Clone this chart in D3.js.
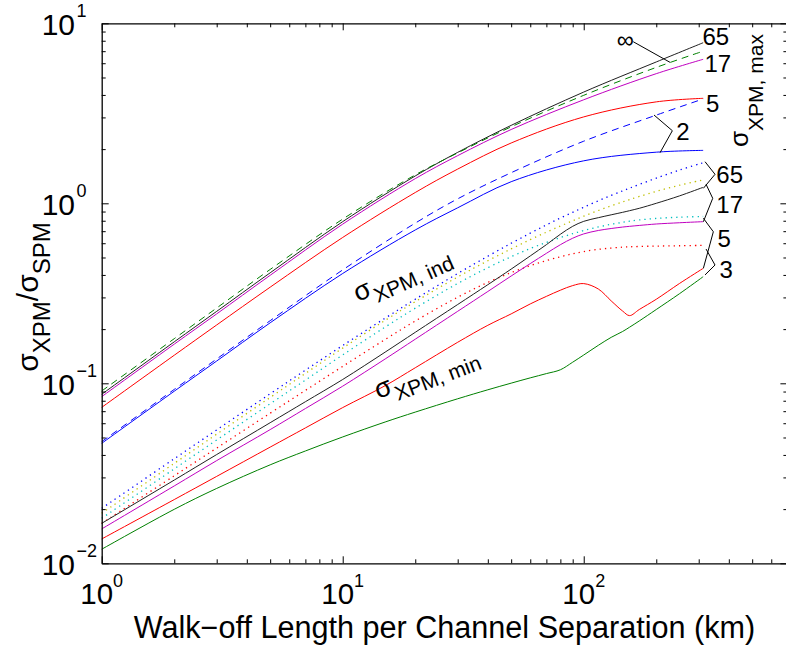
<!DOCTYPE html>
<html><head><meta charset="utf-8">
<script src="https://cdn.jsdelivr.net/npm/d3@7"></script>
<style>
body{margin:0;background:#fff}
svg{display:block}
text{font-family:"Liberation Sans",Arial,Helvetica,sans-serif;fill:#000}
</style>
</head><body>
<svg id="c" width="786" height="646"></svg>
<script>
// ---------------- data ----------------
const xTop = [1, 2, 3, 5, 10, 20, 30, 50, 100, 200, 313];
const maxInf = [0.0906, 0.177, 0.262, 0.429, 0.817, 1.439, 1.905, 2.66, 3.98, 5.69, 7.0];
const max65  = [0.0869, 0.170, 0.251, 0.411, 0.791, 1.419, 1.919, 2.71, 4.15, 6.1, 7.8];
const max17  = [0.0843, 0.165, 0.243, 0.398, 0.766, 1.371, 1.84, 2.57, 3.76, 5.25, 6.31];
const max5   = [0.0735, 0.1432, 0.2109, 0.342, 0.646, 1.148, 1.549, 2.163, 3.02, 3.66, 3.83];
const max2d  = [0.0474, 0.0925, 0.1365, 0.2228, 0.4266, 0.776, 1.059, 1.479, 2.213, 3.09, 3.8];
const max2   = [0.0464, 0.0904, 0.133, 0.2168, 0.4074, 0.711, 0.944, 1.318, 1.722, 1.923, 1.968];

const xLow = [1, 2, 3, 5, 7, 10, 15, 20, 30, 40, 50, 60, 70, 80, 90, 100, 115, 130, 145, 155, 170, 200, 250, 313];
const ind65 = [0.0202, 0.0381, 0.0551, 0.0875, 0.1183, 0.1622, 0.2301, 0.2931, 0.4074, 0.5082, 0.5998, 0.6823, 0.7586, 0.8283, 0.8913, 0.9506, 1.0327, 1.106, 1.172, 1.214, 1.273, 1.379, 1.531, 1.68];
const ind17 = [0.01897, 0.0359, 0.0522, 0.0834, 0.1134, 0.1569, 0.2237, 0.284, 0.3898, 0.4794, 0.5579, 0.6281, 0.6911, 0.7475, 0.7996, 0.8477, 0.9119, 0.9681, 1.018, 1.049, 1.091, 1.165, 1.26, 1.349];
const ind5  = [0.01778, 0.03347, 0.04842, 0.07694, 0.1042, 0.1438, 0.2053, 0.2615, 0.3587, 0.4387, 0.5051, 0.5603, 0.6061, 0.645, 0.6776, 0.7054, 0.7387, 0.7643, 0.7845, 0.7956, 0.8082, 0.8242, 0.8373, 0.8449];
const ind3  = [0.01667, 0.03063, 0.04368, 0.06823, 0.09129, 0.1242, 0.1752, 0.2219, 0.3008, 0.3636, 0.4121, 0.4504, 0.4806, 0.5049, 0.5243, 0.5395, 0.5548, 0.5643, 0.5705, 0.5731, 0.5757, 0.5785, 0.581, 0.5837];
const min65 = [0.01667, 0.0290, 0.0402, 0.0604, 0.079, 0.105, 0.149, 0.192, 0.274, 0.353, 0.431, 0.51, 0.589, 0.673, 0.745, 0.794, 0.832, 0.863, 0.891, 0.91, 0.938, 1.0, 1.10, 1.227];
const min17 = [0.01552, 0.0269, 0.0372, 0.0553, 0.0724, 0.0964, 0.1365, 0.1758, 0.2512, 0.3236, 0.3945, 0.4624, 0.5272, 0.5888, 0.6397, 0.6761, 0.7063, 0.7244, 0.7379, 0.7447, 0.7534, 0.7674, 0.7798, 0.7907];
const min5  = [0.01365, 0.0226, 0.0304, 0.0442, 0.0565, 0.0733, 0.097, 0.122, 0.169, 0.21, 0.243, 0.276, 0.304, 0.329, 0.349, 0.358, 0.334, 0.287, 0.252, 0.2377, 0.257, 0.293, 0.359, 0.435];
const min3  = [0.01197, 0.01995, 0.02606, 0.03524, 0.04207, 0.05035, 0.06095, 0.06918, 0.08204, 0.09204, 0.1002, 0.1072, 0.1132, 0.1189, 0.131, 0.1436, 0.1626, 0.18, 0.194, 0.205, 0.222, 0.257, 0.315, 0.391];

const xMajor = [1, 10, 100];
const xMinor = [2,3,4,5,6,7,8,9,20,30,40,50,60,70,80,90,200,300,400,500,600];
const yMajor = [0.01, 0.1, 1, 10];
const yMinor = [0.02,0.03,0.04,0.05,0.06,0.07,0.08,0.09,0.2,0.3,0.4,0.5,0.6,0.7,0.8,0.9,2,3,4,5,6,7,8,9];
const tickExp = v => Math.round(Math.log10(v));

// annotation anchors (data units)
const topLabels = [
  {t:"65", x:311, y:7.55}, {t:"17", x:317, y:5.35}, {t:"5", x:322, y:3.22},
  {t:"2", x:242, y:2.247}, {t:"\u221E", x:137, y:7.3}
];
const topLeaders = [
  [[160.5, 7.9], [228, 6.07]],
  [[195.7, 3.094], [233.2, 2.531], [207.3, 1.91]]
];
const lowLabels = [
  {t:"65", x:355, y:1.297}, {t:"17", x:355, y:0.882}, {t:"5", x:359, y:0.575}, {t:"3", x:366, y:0.385}
];
const lowLeaders = [
  [[318.7, 1.702], [350.6, 1.449], [313.6, 1.211]],
  [[321.8, 1.275], [343, 1.066], [313.6, 0.79]],
  [[313.6, 0.826], [345, 0.695], [313.6, 0.435]],
  [[321.8, 0.557], [350.6, 0.454], [318.7, 0.40]]
];

// ---------------- drawing ----------------
const svg = d3.select("#c");
const x = d3.scaleLog().domain([1, 700]).range([101.7, 787.4]);
const y = d3.scaleLog().domain([0.01, 10]).range([563.3, 23.3]);

const line = d3.line().x(d => x(d[0])).y(d => y(d[1])).curve(d3.curveCatmullRom.alpha(0.5));
const zipS = (xs, ys) => xs.map((v, i) => [v, ys[i]]);

const DOT = "1.3,4", DASH = "7,5";
const series = [
  {xs:xLow, ys:ind3,  c:"#ff0000", dash:DOT},
  {xs:xLow, ys:ind5,  c:"#00bfbf", dash:DOT},
  {xs:xLow, ys:ind17, c:"#bfbf00", dash:DOT},
  {xs:xLow, ys:ind65, c:"#0000ff", dash:DOT},
  {xs:xLow, ys:min3,  c:"#008000"},
  {xs:xLow, ys:min5,  c:"#ff0000"},
  {xs:xLow, ys:min17, c:"#c000c0"},
  {xs:xLow, ys:min65, c:"#202020"},
  {xs:xTop, ys:max2,  c:"#0000ff"},
  {xs:xTop, ys:max2d, c:"#0000ff", dash:DASH},
  {xs:xTop, ys:max5,  c:"#ff0000"},
  {xs:xTop, ys:max17, c:"#c000c0"},
  {xs:xTop, ys:max65, c:"#202020"},
  {xs:xTop, ys:maxInf, c:"#008000", dash:DASH}
];

const gl = svg.append("g");
series.forEach(s => {
  gl.append("path").attr("d", line(zipS(s.xs, s.ys)))
    .attr("fill", "none").attr("stroke", s.c)
    .attr("stroke-width", s.dash === DOT ? 1.3 : 1)
    .attr("stroke-dasharray", s.dash || null);
});

// axes (ticks inside)
function addAxis(gen, tr, vals, size, keepDomain) {
  const g = svg.append("g").attr("transform", tr)
    .call(gen.tickValues(vals).tickSize(size).tickSizeOuter(0).tickFormat(""));
  g.selectAll(".tick line").attr("stroke", "#000").attr("stroke-width", 1);
  if (!keepDomain) g.select(".domain").remove();
  else g.select(".domain").attr("stroke", "#000").attr("stroke-width", 1.3);
  return g;
}
const H = 563.3, T = 23.3, L = 101.7, R = 787.4;
addAxis(d3.axisBottom(x), `translate(0,${H})`, xMajor, -7, true);
addAxis(d3.axisBottom(x), `translate(0,${H})`, xMinor, -4, false);
addAxis(d3.axisTop(x), `translate(0,${T})`, xMajor, -7, true);
addAxis(d3.axisTop(x), `translate(0,${T})`, xMinor, -4, false);
addAxis(d3.axisLeft(y), `translate(${L},0)`, yMajor, -7, true);
addAxis(d3.axisLeft(y), `translate(${L},0)`, yMinor, -4, false);
addAxis(d3.axisRight(y), `translate(${R},0)`, yMajor, -7, true);
addAxis(d3.axisRight(y), `translate(${R},0)`, yMinor, -4, false);

// tick labels
xMajor.forEach(v => {
  const t = svg.append("text").attr("x", x(v)).attr("y", 604).attr("text-anchor", "middle");
  t.append("tspan").attr("font-size", 29.5).text("10");
  t.append("tspan").attr("font-size", 18).attr("dy", -17).text(String(tickExp(v)).replace("-", "\u2212"));
});
yMajor.forEach(v => {
  svg.append("text").attr("x", 75).attr("y", y(v) + 11.7).attr("text-anchor", "end")
    .attr("font-size", 30).text("10");
  svg.append("text").attr("x", 76.5).attr("y", y(v) - 6).attr("font-size", 18)
    .text(String(tickExp(v)).replace("-", "\u2212"));
});

// axis labels
svg.append("text").attr("x", 444.5).attr("y", 638).attr("text-anchor", "middle")
  .attr("font-size", 30.6).text("Walk\u2212off Length per Channel Separation (km)");

const yl = svg.append("text").attr("transform", "translate(38,297) rotate(-90)").attr("text-anchor", "middle");
yl.append("tspan").attr("font-size", 30).text("\u03C3");
yl.append("tspan").attr("font-size", 24).attr("dy", 12).text("XPM");
yl.append("tspan").attr("font-size", 30).attr("dy", -12).text("/\u03C3");
yl.append("tspan").attr("font-size", 24).attr("dy", 12).text("SPM");

// right label sigma_XPM,max
const rl = svg.append("text").attr("transform", `translate(${x(480)},${y(2.055)}) rotate(-90)`);
rl.append("tspan").attr("font-size", 26).text("\u03C3");
rl.append("tspan").attr("font-size", 21).attr("dy", 15).text("XPM, max");

// in-plot labels
function sigLabel(px, py, ang, sub) {
  const t = svg.append("text").attr("transform", `translate(${px},${py}) rotate(${ang})`);
  t.append("tspan").attr("font-size", 27).text("\u03C3");
  t.append("tspan").attr("font-size", 21).attr("dy", 9).attr("dx", 1).text(sub);
}
sigLabel(x(11.57), y(0.283), -24, "XPM, ind");
sigLabel(x(14.03), y(0.0818), -21, "XPM, min");

// number labels and leaders
const leader = d3.line().x(d => x(d[0])).y(d => y(d[1]));
topLeaders.concat(lowLeaders).forEach(p => {
  svg.append("path").attr("d", leader(p)).attr("fill", "none").attr("stroke", "#000").attr("stroke-width", 1);
});
topLabels.concat(lowLabels).forEach(d => {
  svg.append("text").attr("x", x(d.x)).attr("y", y(d.y)).attr("font-size", 24).text(d.t);
});
</script>
</body></html>
